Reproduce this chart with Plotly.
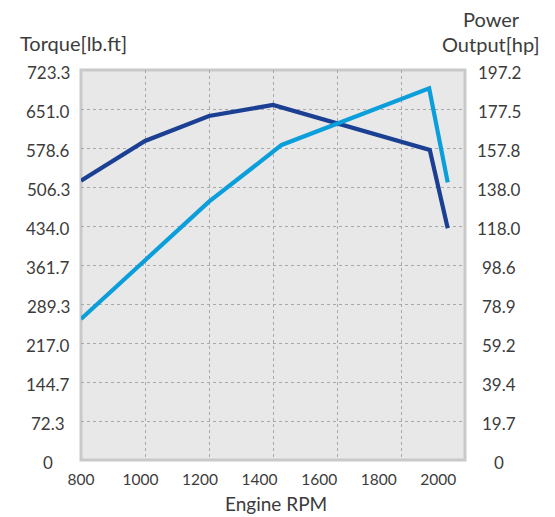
import plotly.graph_objects as go

# ---- data ----
rpm_torque = [800, 1000, 1200, 1400, 1890, 1946]
torque = [518.0, 591.6, 638.0, 658.4, 574.9, 429.7]

rpm_power = [800, 1000, 1200, 1427, 1888, 1946]
power = [71.3, 101.1, 130.6, 159.3, 187.9, 140.4]

x_tick_labels = [800, 1000, 1200, 1400, 1600, 1800, 2000]
left_tick_labels = ["0", "72.3", "144.7", "217.0", "289.3", "361.7", "434.0",
                    "506.3", "578.6", "651.0", "723.3"]
right_tick_labels = ["0", "19.7", "39.4", "59.2", "78.9", "98.6", "118.0",
                     "138.0", "157.8", "177.5", "197.2"]

TORQUE_MAX = 723.3
POWER_MAX = 197.2

DARK = "#1b3f93"
LIGHT = "#0a9fdb"
TXT = "#3c3c3c"
FONT = "Lato, Open Sans, sans-serif"

fig = go.Figure()
fig.add_trace(go.Scatter(x=rpm_torque, y=torque, mode="lines",
                         line=dict(color=DARK, width=4.2), xaxis="x", yaxis="y",
                         name="Torque", showlegend=False, hoverinfo="skip"))
fig.add_trace(go.Scatter(x=rpm_power, y=power, mode="lines",
                         line=dict(color=LIGHT, width=4.2), xaxis="x", yaxis="y2",
                         name="Power", showlegend=False, hoverinfo="skip"))
# invisible helper so the label axis is drawn
fig.add_trace(go.Scatter(x=x_tick_labels, y=[0] * len(x_tick_labels), mode="markers",
                         marker=dict(opacity=0, size=1), xaxis="x2", yaxis="y",
                         showlegend=False, hoverinfo="skip"))

n = len(left_tick_labels) - 1
grid_y = [TORQUE_MAX * i / n for i in range(1, n)]

# page body has an 8px margin -> figure starts at (8, 8)
W, H = 547, 509
L, R, T, B = 73, 90, 62, 57
PW, PH = W - L - R, H - T - B


def px_x(p):
    return (p - 8 - L) / PW


def px_y(p):
    return (8 + T + PH - p) / PH


annotations = []
for i, t in enumerate(left_tick_labels):
    annotations.append(dict(text=t, x=px_x(48), xref="paper", y=TORQUE_MAX * i / n, yref="y",
                            xanchor="center", yanchor="middle", showarrow=False, yshift=-2,
                            font=dict(size=17, color=TXT, family=FONT)))
for i, t in enumerate(right_tick_labels):
    annotations.append(dict(text=t, x=px_x(499), xref="paper", y=POWER_MAX * i / n, yref="y2",
                            xanchor="center", yanchor="middle", showarrow=False, yshift=-2,
                            font=dict(size=17, color=TXT, family=FONT)))
annotations += [
    dict(text="Torque[lb.ft]", x=px_x(18), xref="paper", y=px_y(43), yref="paper",
         xanchor="left", yanchor="middle", showarrow=False,
         font=dict(size=20, color=TXT, family=FONT)),
    dict(text="Power", x=px_x(491), xref="paper", y=px_y(19), yref="paper",
         xanchor="center", yanchor="middle", showarrow=False,
         font=dict(size=20, color=TXT, family=FONT)),
    dict(text="Output[hp]", x=px_x(491), xref="paper", y=px_y(44), yref="paper",
         xanchor="center", yanchor="middle", showarrow=False,
         font=dict(size=20, color=TXT, family=FONT)),
    dict(text="Engine RPM", x=px_x(276), xref="paper", y=px_y(516.5), yref="paper",
         xanchor="center", yanchor="bottom", showarrow=False,
         font=dict(size=19, color=TXT, family=FONT)),
]

fig.update_layout(
    width=W, height=H,
    margin=dict(l=L, r=R, t=T, b=B),
    paper_bgcolor="white", plot_bgcolor="#e8e8e8",
    font=dict(family=FONT, color=TXT),
    xaxis=dict(range=[800, 2000], tickvals=[1000, 1200, 1400, 1600, 1800],
               showticklabels=False, ticks="", showgrid=True, gridcolor="#a8a8a8",
               gridwidth=1, griddash="3px,3px", zeroline=False, showline=False,
               fixedrange=True),
    xaxis2=dict(overlaying="x", anchor="y", side="bottom", range=[800, 2090],
                tickvals=x_tick_labels, ticktext=[str(v) for v in x_tick_labels],
                ticks="", showgrid=False, zeroline=False, showline=False,
                ticklabelstandoff=8,
                tickfont=dict(size=15.5, color=TXT, family=FONT)),
    yaxis=dict(range=[0, TORQUE_MAX], tickvals=grid_y, showticklabels=False, ticks="",
               showgrid=True, gridcolor="#a8a8a8", gridwidth=1, griddash="3px,3px",
               zeroline=False, showline=False),
    yaxis2=dict(range=[0, POWER_MAX], overlaying="y", side="right", showgrid=False,
                showticklabels=False, ticks="", zeroline=False, showline=False),
    shapes=[dict(type="rect", xref="paper", yref="paper", x0=0, x1=1, y0=0, y1=1,
                 line=dict(color="#c9c9c9", width=3), layer="below")],
    annotations=annotations,
)

fig.write_html("out.html")
